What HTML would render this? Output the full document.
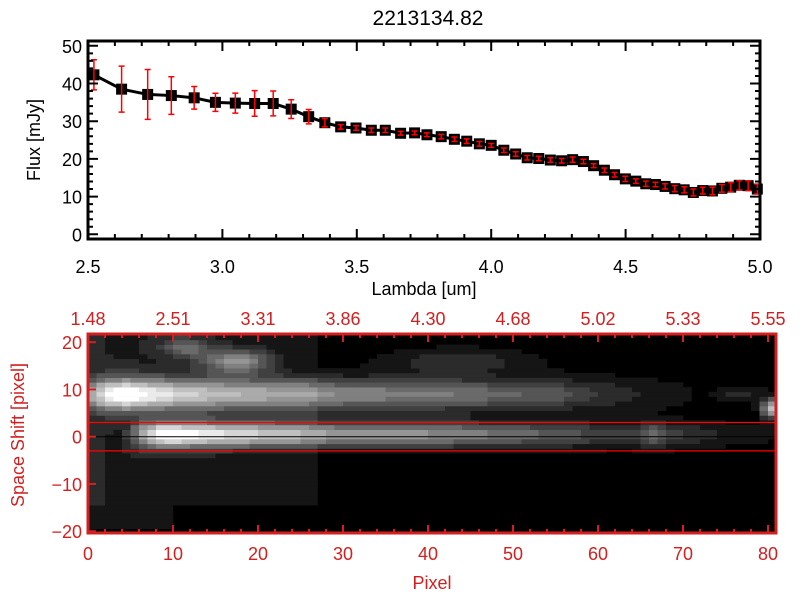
<!DOCTYPE html>
<html><head><meta charset="utf-8">
<style>
html,body{margin:0;padding:0;background:#fff;}
svg text{font-family:"Liberation Sans",sans-serif;}
</style></head>
<body>
<svg id="chart" width="800" height="600" viewBox="0 0 800 600" xmlns="http://www.w3.org/2000/svg">
<defs><clipPath id="imgclip"><rect x="88" y="334" width="688" height="199"/></clipPath></defs>
<rect width="800" height="600" fill="#fff"/>
<text x="428" y="25" font-size="21" text-anchor="middle" fill="#000">2213134.82</text>
<g id="topPlot"></g>
<g id="botPlot"></g>
<text x="0" y="0" transform="translate(40,140) rotate(-90)" font-size="18" text-anchor="middle" fill="#000">Flux [mJy]</text>
<text x="424" y="295" font-size="18" text-anchor="middle" fill="#000">Lambda [um]</text>
<text x="0" y="0" transform="translate(24,435) rotate(-90)" font-size="18" text-anchor="middle" fill="#d22020">Space Shift [pixel]</text>
<text x="432" y="589" font-size="18" text-anchor="middle" fill="#d22020">Pixel</text>
</svg>
<script>
const lambdaVals=[2.522,2.625,2.722,2.810,2.895,2.974,3.048,3.120,3.189,3.256,3.321,3.381,3.440,3.497,3.554,3.606,3.663,3.715,3.761,3.814,3.863,3.909,3.956,4.000,4.047,4.091,4.134,4.177,4.220,4.262,4.303,4.343,4.381,4.421,4.459,4.499,4.538,4.575,4.611,4.647,4.683,4.718,4.752,4.787,4.823,4.858,4.891,4.923,4.956,4.990];
const fluxVals=[42.3,38.5,37.1,36.8,36.2,35.0,34.8,34.7,34.7,33.2,31.2,29.6,28.5,28.2,27.6,27.6,26.8,26.9,26.4,25.9,25.2,24.7,24.0,23.6,22.3,21.3,20.3,20.1,19.7,19.5,19.8,19.3,18.2,17.0,15.8,14.7,14.1,13.4,13.2,12.7,12.1,11.8,11.1,11.6,11.5,12.2,12.5,13.0,12.9,12.0];
const fluxErr=[4,6.1,6.6,5.0,3.0,2.4,2.65,3.4,3.3,2.5,1.9,1.1,0.6,0.6,0.6,0.6,0.5,0.5,0.5,0.6,0.6,0.6,0.6,0.5,0.6,0.6,0.6,0.6,0.6,0.6,0.7,0.6,0.5,0.6,0.6,0.7,0.6,0.7,0.6,0.7,0.8,0.8,0.9,0.9,1.0,1.0,1.2,1.2,1.3,1.3];
const xTickLabels=["2.5","3.0","3.5","4.0","4.5","5.0"];
const yTickLabels=["0","10","20","30","40","50"];
const topWaveLabels=["1.48","2.51","3.31","3.86","4.30","4.68","5.02","5.33","5.55"];
const pixTickLabels=["0","10","20","30","40","50","60","70","80"];
const shiftTickLabels=["-20","-10","0","10","20"];
const traceAPix=[0,2,4,7,10,15,20,27,30,40,50,55,60,65,70];
const traceAAmp=[0.55,0.9,1.0,0.85,0.75,0.66,0.62,0.58,0.52,0.48,0.38,0.32,0.2,0.12,0.05];
const traceBPix=[4,6,8,10,13,20,27,30,40,50,58,63,66,69,75,80];
const traceBAmp=[0.1,0.6,0.95,1.0,0.88,0.75,0.65,0.6,0.56,0.42,0.3,0.22,0.42,0.22,0.1,0.05];
const blobs=[[17,16,4,2.5,0.5],[11,19,3,2,0.35],[80,6,1.2,2,0.75],[43,16,8,2.5,0.2],[76,9,3,1.5,0.15]];
const NS="http://www.w3.org/2000/svg";
function mk(p,tag,at){const e=document.createElementNS(NS,tag);for(const k in at)e.setAttribute(k,at[k]);p.appendChild(e);return e;}
const topG=document.getElementById('topPlot');
const X0=88,X1=760,YT=41,YB=239;
const sx=l=>X0+(l-2.5)*(X1-X0)/2.5;
const sy=v=>234.3-v*3.77;
let d='';
lambdaVals.forEach((l,i)=>{d+=(i?'L':'M')+sx(l)+' '+sy(fluxVals[i]);});
const ln=mk(topG,'path',{d:d,fill:'none',stroke:'#000','stroke-width':3});


lambdaVals.forEach((l,i)=>{
  const x=sx(l),y=sy(fluxVals[i]);
  const s=mk(topG,'rect',{x:x-5.5,y:y-5.5,width:11,height:11,fill:'#000'});
  
  
  const y1=sy(fluxVals[i]+fluxErr[i]),y2=sy(fluxVals[i]-fluxErr[i]);
  const e=mk(topG,'path',{d:`M${x} ${y1}V${y2}M${x-3} ${y1}H${x+3}M${x-3} ${y2}H${x+3}`,stroke:'#f00','stroke-width':1.5,fill:'none'});
  
  
});
const ax=mk(topG,'rect',{x:X0,y:YT,width:X1-X0,height:YB-YT,fill:'none',stroke:'#000','stroke-width':3});


for(let k=0;k<=25;k++){const l=2.5+k*0.1,x=sx(l),len=k%5==0?10:5;
  mk(topG,'path',{d:`M${x} ${YB}v${-len}M${x} ${YT}v${len}`,stroke:'#000','stroke-width':2});}
xTickLabels.forEach((t,i)=>{const tx=mk(topG,'text',{x:sx(2.5+i*0.5),y:273,'font-size':18,'text-anchor':'middle',fill:'#000'});tx.textContent=t;
  });
for(let v=0;v<=50;v+=2){const y=sy(v),len=v%10==0?10:5;
  mk(topG,'path',{d:`M${X0} ${y}h${len}M${X1} ${y}h${-len}`,stroke:'#000','stroke-width':2});}
yTickLabels.forEach((t,i)=>{const tx=mk(topG,'text',{x:82,y:sy(i*10)+7,'font-size':18,'text-anchor':'end',fill:'#000'});tx.textContent=t;
  });
const botG=document.getElementById('botPlot');
const BX0=88,BX1=776,BYT=334,BYB=533,PW=8.5,RH=4.725,Y0=436.7;
const px=p=>BX0+p*PW, py=s=>Y0-s*RH;
function interp(xs,ys,x){if(x<xs[0]||x>xs[xs.length-1])return 0;for(let i=0;i<xs.length-1;i++){if(x<=xs[i+1]){const t=(x-xs[i])/(xs[i+1]-xs[i]);return ys[i]+t*(ys[i+1]-ys[i]);}}return 0;}
const bgRect=mk(botG,'rect',{x:BX0,y:BYT,width:BX1-BX0,height:BYB-BYT,fill:'#000'});


const g=mk(botG,'g',{'clip-path':'url(#imgclip)'});


for(let c=0;c<81;c++){for(let r=-21;r<=21;r++){
  let v=0;
  const a=interp(traceAPix,traceAAmp,c);v+=a*Math.exp(-Math.pow((r-9)/3.3,2));
  const b=interp(traceBPix,traceBAmp,c);v+=b*Math.exp(-Math.pow((r-0.5)/2.6,2));
  blobs.forEach(q=>{v+=q[4]*Math.exp(-Math.pow((c-q[0])/q[2],2)-Math.pow((r-q[1])/q[3],2));});
  if(c<27&&r>-15)v+=0.13*(1-c/40);
  if(c<10&&r<=-15&&r>-20)v+=0.06;
  v=Math.min(1,v);v=Math.round(v*12)/12;
  if(v<=0.04)continue;
  const gr=Math.round(v*255);
  const cell=mk(g,'rect',{x:px(c),y:py(r)-RH/2,width:PW+0.3,height:RH+0.3,fill:`rgb(${gr},${gr},${gr})`});
  
  
}}
mk(botG,'line',{x1:BX0,x2:BX1,y1:py(3),y2:py(3),stroke:'#f00','stroke-width':1.2});
mk(botG,'line',{x1:BX0,x2:BX1,y1:py(-3),y2:py(-3),stroke:'#f00','stroke-width':1.2});
mk(botG,'line',{x1:BX0,x2:BX1,y1:py(0),y2:py(0),stroke:'#000','stroke-width':1});
const bf=mk(botG,'rect',{x:BX0,y:BYT,width:BX1-BX0,height:BYB-BYT,fill:'none',stroke:'#d22020','stroke-width':3});


for(let p=0;p<=80;p+=2){const x=px(p),len=p%10==0?8:4;
  mk(botG,'path',{d:`M${x} ${BYB}v${-len}M${x} ${BYT}v${len}`,stroke:'#d22020','stroke-width':2});}
for(let s=-20;s<=20;s+=10){mk(botG,'path',{d:`M${BX0} ${py(s)}h8`,stroke:'#d22020','stroke-width':2});}
pixTickLabels.forEach((t,i)=>{const tx=mk(botG,'text',{x:px(i*10),y:560,'font-size':18,'text-anchor':'middle',fill:'#d22020'});tx.textContent=t;
  });
topWaveLabels.forEach((t,i)=>{const tx=mk(botG,'text',{x:px(i*10),y:325,'font-size':18,'text-anchor':'middle',fill:'#d22020'});tx.textContent=t;
  });
shiftTickLabels.forEach((t,i)=>{const tx=mk(botG,'text',{x:82,y:py(-20+i*10)+7,'font-size':18,'text-anchor':'end',fill:'#d22020'});tx.textContent=t.replace('-','\u2212');
  });
</script>
</body></html>
